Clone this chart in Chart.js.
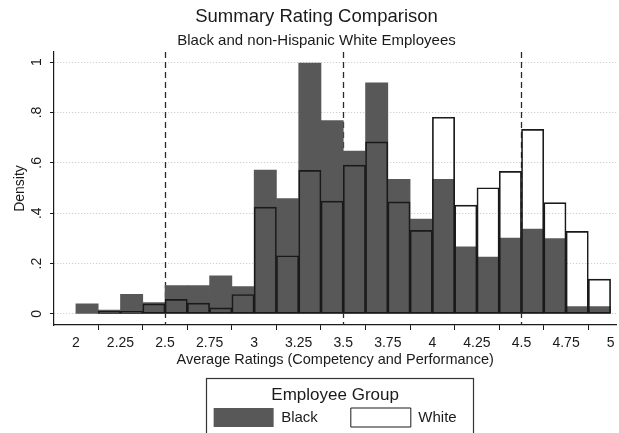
<!DOCTYPE html>
<html>
<head>
<meta charset="utf-8">
<script src="https://cdn.jsdelivr.net/npm/chart.js@4.4.1/dist/chart.umd.min.js"></script>
<style>
  html, body { margin: 0; padding: 0; background: #ffffff; }
  #wrap { width: 619px; height: 433px; position: relative; }
</style>
</head>
<body>
<div id="wrap"><canvas id="c" width="619" height="433"></canvas></div>
<script>
// Histogram bins (width 0.125), centers
const binCenters = [2.0625, 2.1875, 2.3125, 2.4375, 2.5625, 2.6875, 2.8125, 2.9375,
                    3.0625, 3.1875, 3.3125, 3.4375, 3.5625, 3.6875, 3.8125, 3.9375,
                    4.0625, 4.1875, 4.3125, 4.4375, 4.5625, 4.6875, 4.8125, 4.9375];
// Densities
const blackDensity = [0.040, 0.015, 0.078, 0.045, 0.113, 0.113, 0.151, 0.109,
                      0.571, 0.458, 0.996, 0.768, 0.647, 0.918, 0.534, 0.377,
                      0.534, 0.266, 0.226, 0.301, 0.337, 0.299, 0.029, 0.029];
const whiteDensity = [0.000, 0.010, 0.010, 0.040, 0.058, 0.043, 0.024, 0.077,
                      0.424, 0.231, 0.570, 0.448, 0.591, 0.683, 0.445, 0.332,
                      0.781, 0.432, 0.501, 0.566, 0.733, 0.442, 0.328, 0.138];
const xTicks = [2, 2.25, 2.5, 2.75, 3, 3.25, 3.5, 3.75, 4, 4.25, 4.5, 4.75, 5];
const xTickLabels = ['2', '2.25', '2.5', '2.75', '3', '3.25', '3.5', '3.75', '4', '4.25', '4.5', '4.75', '5'];
const yTicks = [0, 0.2, 0.4, 0.6, 0.8, 1];
const yTickLabels = ['0', '.2', '.4', '.6', '.8', '1'];
const refLines = [2.5, 3.5, 4.5];
const seriesNames = ['Black', 'White'];

const FONT = "'Liberation Sans', Arial, Helvetica, sans-serif";
const INK = '#1a1a1a';

const refLinePlugin = {
  id: 'refLines',
  beforeDatasetsDraw(chart) {
    const {ctx, chartArea, scales} = chart;
    ctx.save();
    ctx.strokeStyle = '#2a2a2a';
    ctx.lineWidth = 1.3;
    ctx.setLineDash([6, 4]);
    refLines.forEach(v => {
      const px = Math.round(scales.x.getPixelForValue(v)) + 0.5;
      ctx.beginPath();
      ctx.moveTo(px, chartArea.top);
      ctx.lineTo(px, chartArea.bottom);
      ctx.stroke();
    });
    ctx.restore();
  }
};

const legendFramePlugin = {
  id: 'legendFrame',
  afterDraw(chart) {
    const lg = chart.legend;
    if (!lg || !lg.legendHitBoxes || !lg.legendHitBoxes.length) return;
    const boxes = lg.legendHitBoxes;
    const first = boxes[0], last = boxes[boxes.length - 1];
    const left = first.left - 8;
    const right = last.left + last.width + 16;
    const top = lg.top + 6;
    const bottom = lg.bottom + 8;
    const ctx = chart.ctx;
    ctx.save();
    ctx.strokeStyle = '#333';
    ctx.lineWidth = 1.2;
    ctx.strokeRect(Math.round(left) + 0.5, Math.round(top) + 0.5, Math.round(right - left), Math.round(bottom - top));
    ctx.restore();
  }
};

new Chart(document.getElementById('c'), {
  type: 'bar',
  data: {
    datasets: [
      {
        label: seriesNames[0],
        data: binCenters.map((x, i) => ({x: x, y: blackDensity[i]})),
        backgroundColor: '#585858',
        borderWidth: 0,
        order: 1
      },
      {
        label: seriesNames[1],
        data: binCenters.map((x, i) => ({x: x, y: whiteDensity[i]})),
        backgroundColor: 'rgba(255,255,255,0)',
        borderColor: INK,
        borderWidth: 1,
        borderSkipped: false,
        order: 0
      }
    ]
  },
  options: {
    responsive: false,
    animation: false,
    devicePixelRatio: 1,
    layout: { padding: { left: 14, right: 0, top: 0, bottom: 0 } },
    datasets: {
      bar: { barPercentage: 1, categoryPercentage: 1, grouped: false }
    },
    scales: {
      x: {
        type: 'linear',
        min: 1.877,
        max: 5.032,
        offset: false,
        afterBuildTicks: s => { s.ticks = xTicks.map(v => ({value: v})); },
        afterFit: s => { s.height = 47; },
        ticks: {
          callback: (v, i) => xTickLabels[i],
          font: { family: FONT, size: 14 },
          color: INK,
          padding: 4.5,
          maxRotation: 0,
          autoSkip: false
        },
        grid: { display: true, drawOnChartArea: false, drawTicks: true, tickLength: 5, tickColor: INK, tickWidth: 1 },
        border: { display: true, color: INK, width: 1.2 },
        title: {
          display: true,
          text: 'Average Ratings (Competency and Performance)',
          font: { family: FONT, size: 14.5 },
          color: INK,
          padding: { top: 0, bottom: 3.5 }
        }
      },
      y: {
        type: 'linear',
        min: -0.044,
        max: 1.04,
        afterBuildTicks: s => { s.ticks = yTicks.map(v => ({value: v})); },
        afterFit: s => { s.width = 40; },
        ticks: {
          callback: (v, i) => yTickLabels[i],
          font: { family: FONT, size: 14 },
          color: INK,
          minRotation: 90,
          maxRotation: 90,
          crossAlign: 'center',
          padding: 7
        },
        grid: { display: true, drawOnChartArea: true, color: '#c4c4c4', lineWidth: 1, drawTicks: true, tickLength: 4, tickColor: INK, tickWidth: 1, tickBorderDash: [] },
        border: { display: true, color: INK, width: 1.2, dash: [1, 2] },
        title: {
          display: true,
          text: 'Density',
          font: { family: FONT, size: 14 },
          color: INK,
          padding: { top: -2.4, bottom: 0 }
        }
      }
    },
    plugins: {
      title: {
        display: true,
        text: 'Summary Rating Comparison',
        font: { family: FONT, size: 18.5, weight: 'normal' },
        color: INK,
        padding: { top: 5.4, bottom: 4.4 }
      },
      subtitle: {
        display: true,
        text: 'Black and non-Hispanic White Employees',
        font: { family: FONT, size: 15, weight: 'normal' },
        color: INK,
        padding: { top: 0, bottom: 2 }
      },
      legend: {
        display: true,
        position: 'bottom',
        fullSize: false,
        maxHeight: 61,
        labels: {
          boxWidth: 60,
          boxHeight: 19,
          padding: 33,
          font: { family: FONT, size: 15 },
          color: INK,
          sort: (a, b) => a.datasetIndex - b.datasetIndex
        },
        title: {
          display: true,
          text: 'Employee Group',
          font: { family: FONT, size: 17 },
          color: INK,
          padding: { top: 14.5, bottom: -31.9 }
        }
      },
      tooltip: { enabled: false }
    }
  },
  plugins: [refLinePlugin, legendFramePlugin]
});
</script>
</body>
</html>
